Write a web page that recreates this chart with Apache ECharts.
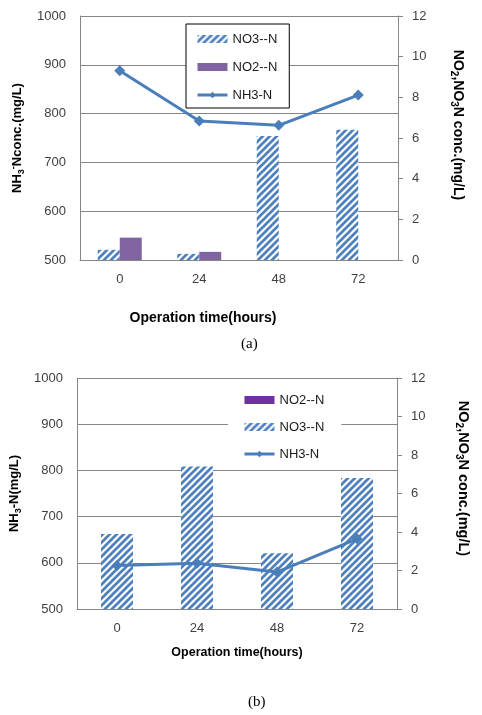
<!DOCTYPE html>
<html><head><meta charset="utf-8">
<script src="https://cdn.jsdelivr.net/npm/echarts@6/dist/echarts.min.js"></script>
<style>html,body{margin:0;padding:0;background:#fff}#c{width:482px;height:715px}</style>
</head><body><div id="c"></div>
<script>
// ---- data ----
const categories = ['0', '24', '48', '72'];
const a_NO3 = [0.5, 0.3, 6.1, 6.4];
const a_NO2 = [1.1, 0.4, 0, 0];
const a_NH3 = [888, 785, 776, 838];
const b_NO2 = [0, 0, 0, 0];
const b_NO3 = [3.9, 7.4, 2.9, 6.8];
const b_NH3 = [594, 599, 580, 652];
const leftRange = [500, 1000, 100];
const rightRange = [0, 12, 2];

// ---- styles ----
const BLUE = '#4A7EBB';
const GRID_C = '#868686';
const TXT = '#404040';
const FONT = 'Liberation Sans';

function hatch() {
  const s = 7, c = document.createElement('canvas');
  c.width = s; c.height = s;
  const g = c.getContext('2d');
  g.fillStyle = '#fff'; g.fillRect(0, 0, s, s);
  g.strokeStyle = '#4F81BD'; g.lineWidth = 2.7;
  g.beginPath();
  for (let k = -1; k <= 1; k++) {
    g.moveTo(k * s - 1, s + 1);
    g.lineTo(k * s + s + 1, -1);
  }
  g.stroke();
  return { image: c, repeat: 'repeat' };
}
const HATCH = hatch();

function richSet(size) {
  return {
    n: { fontSize: size, fontWeight: 'bold', color: '#000', fontFamily: FONT, lineHeight: 17 },
    sub: { fontSize: Math.round(size * 0.68), fontWeight: 'bold', color: '#000', fontFamily: FONT, lineHeight: 11, verticalAlign: 'bottom' },
    sup: { fontSize: Math.round(size * 0.68), fontWeight: 'bold', color: '#000', fontFamily: FONT, lineHeight: 11, verticalAlign: 'top' }
  };
}
const plain = v => String(v);

function leftAxis(grid, name, gap) {
  return {
    type: 'value', gridIndex: grid, position: 'left',
    min: leftRange[0], max: leftRange[1], interval: leftRange[2],
    axisLine: { show: true, lineStyle: { color: GRID_C } },
    axisTick: { show: false },
    splitLine: { show: true, lineStyle: { color: GRID_C, width: 1 } },
    axisLabel: { color: TXT, fontSize: 13, fontFamily: FONT, margin: 14, formatter: plain },
    name: name, nameLocation: 'middle', nameRotate: 90, nameGap: gap,
    nameTextStyle: { rich: richSet(13) }
  };
}
function rightAxis(grid, gap, shift, size) {
  return {
    type: 'value', gridIndex: grid, position: 'right',
    min: rightRange[0], max: rightRange[1], interval: rightRange[2],
    axisLine: { show: true, lineStyle: { color: GRID_C } },
    axisTick: { show: true, inside: false, length: 5, lineStyle: { color: GRID_C } },
    splitLine: { show: false },
    axisLabel: { color: TXT, fontSize: 13, fontFamily: FONT, margin: 14, formatter: plain },
    name: '{n|NO}{sub|2}{n|,NO}{sub|3}{n|N conc.(mg/L)}',
    nameLocation: 'middle', nameRotate: -90, nameGap: gap,
    nameTextStyle: { rich: richSet(size), padding: [0, shift, 0, 0] }
  };
}
function xAxis(grid, size, gap, pad) {
  return {
    type: 'category', gridIndex: grid, data: categories, boundaryGap: true,
    axisLine: { show: true, lineStyle: { color: GRID_C } },
    axisTick: { show: false },
    axisLabel: { color: TXT, fontSize: 13, fontFamily: FONT, margin: 13 },
    name: 'Operation time(hours)', nameLocation: 'middle', nameGap: gap,
    nameTextStyle: { fontSize: size, fontWeight: 'bold', color: '#000', fontFamily: FONT, padding: [0, pad, 0, 0] }
  };
}

const legendCommon = {
  orient: 'vertical', itemWidth: 30, itemHeight: 8,
  textStyle: { fontSize: 13, color: '#1a1a1a', fontFamily: FONT, lineHeight: 14 },
  lineStyle: { width: 3 }
};

const option = {
  backgroundColor: '#fff',
  animation: false,
  grid: [
    { left: 80, top: 16, width: 318, height: 244 },
    { left: 77, top: 378, width: 320, height: 231 }
  ],
  xAxis: [xAxis(0, 14, 51, 72), xAxis(1, 12.5, 37, 0)],
  yAxis: [
    leftAxis(0, '{n|NH}{sub|3}{sup|-}{n|Nconc.(mg/L)}', 49),
    rightAxis(0, 51, 26, 14),
    leftAxis(1, '{n|NH}{sub|3}{n|-N(mg/L)}', 52),
    rightAxis(1, 57, 30, 14.5)
  ],
  legend: [
    Object.assign({}, legendCommon, {
      left: 186, top: 24, padding: [8, 12, 6, 10], itemGap: 14,
      backgroundColor: '#fff', borderColor: '#000', borderWidth: 1,
      data: [
        { name: 'NO3--N', icon: 'rect' },
        { name: 'NO2--N', icon: 'rect', itemStyle: { color: '#8064A2' } },
        { name: 'NH3-N' }
      ]
    }),
    Object.assign({}, legendCommon, {
      left: 228, top: 385, padding: [8, 17, 8, 15], itemGap: 13,
      backgroundColor: '#fff', borderWidth: 0,
      data: [
        { name: 'NO2--N', icon: 'rect', itemStyle: { color: '#7030A0' } },
        { name: 'NO3--N', icon: 'rect' },
        { name: 'NH3-N' }
      ]
    })
  ],
  graphic: [
    { type: 'text', left: 241, top: 337, style: { text: '(a)', font: '15px "Liberation Serif"', fill: '#000' } },
    { type: 'text', left: 248, top: 695, style: { text: '(b)', font: '15px "Liberation Serif"', fill: '#000' } }
  ],
  series: [
    { name: 'NO3--N', type: 'bar', xAxisIndex: 0, yAxisIndex: 1, data: a_NO3, barWidth: 22, barGap: '0%', itemStyle: { color: HATCH } },
    { name: 'NO2--N', type: 'bar', xAxisIndex: 0, yAxisIndex: 1, data: a_NO2, barWidth: 22, barGap: '0%', itemStyle: { color: '#8064A2' } },
    { name: 'NH3-N', type: 'line', xAxisIndex: 0, yAxisIndex: 0, data: a_NH3, z: 5,
      lineStyle: { color: BLUE, width: 3 }, itemStyle: { color: BLUE }, symbol: 'diamond', symbolSize: 11 },
    { name: 'NO2--N', type: 'bar', xAxisIndex: 1, yAxisIndex: 3, data: b_NO2, barWidth: 32, barGap: '-100%', itemStyle: { color: '#7030A0' } },
    { name: 'NO3--N', type: 'bar', xAxisIndex: 1, yAxisIndex: 3, data: b_NO3, barWidth: 32, barGap: '-100%', itemStyle: { color: HATCH } },
    { name: 'NH3-N', type: 'line', xAxisIndex: 1, yAxisIndex: 2, data: b_NH3, z: 5,
      lineStyle: { color: BLUE, width: 3 }, itemStyle: { color: BLUE }, symbol: 'diamond', symbolSize: 11 }
  ]
};
const chart = echarts.init(document.getElementById('c'), null, { renderer: 'canvas' });
chart.setOption(option);
</script>
</body></html>
